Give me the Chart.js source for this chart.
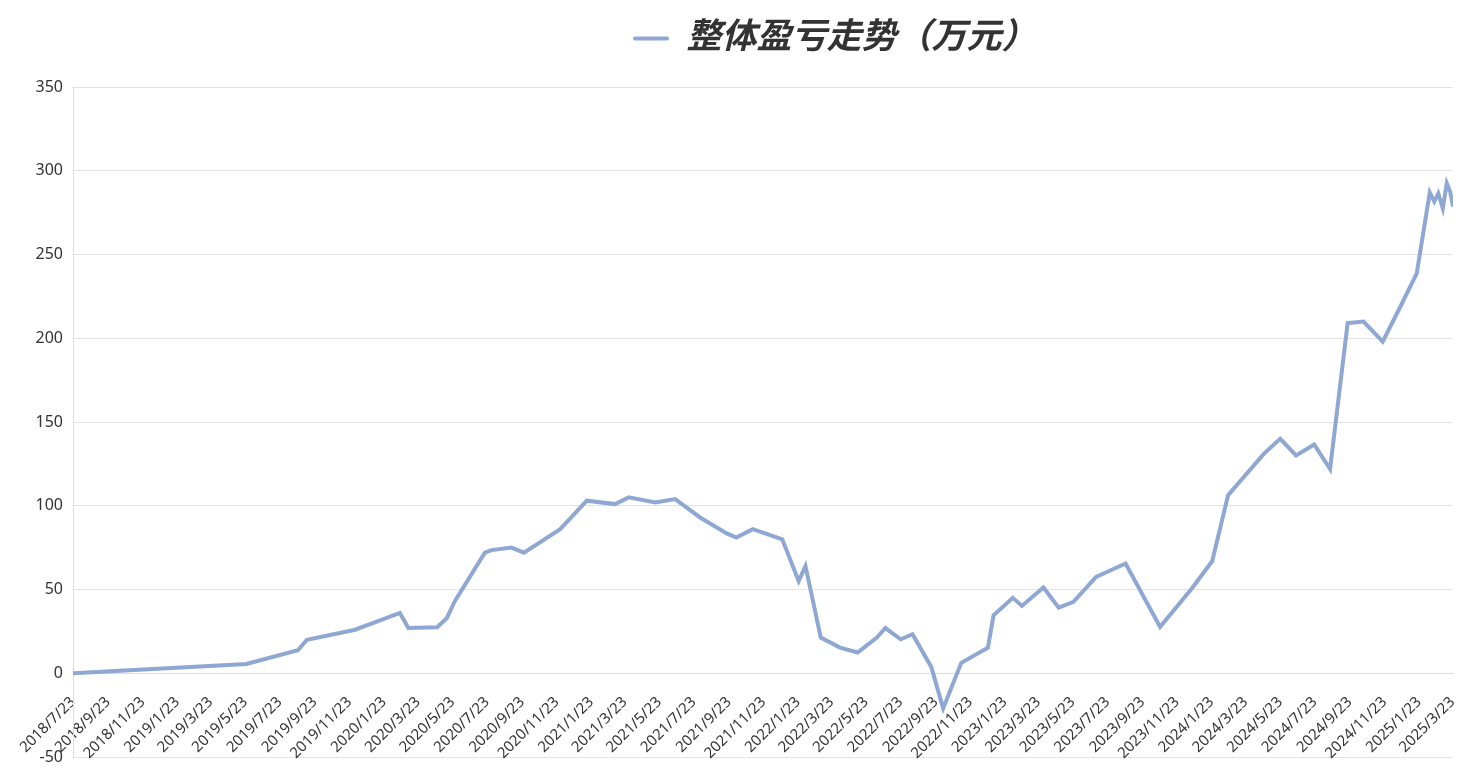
<!DOCTYPE html>
<html>
<head>
<meta charset="utf-8">
<script src="https://cdn.jsdelivr.net/npm/chart.js@4.4.1/dist/chart.umd.min.js"></script>
<style>
html,body{margin:0;padding:0;background:#fff;}
#wrap{width:1468px;height:768px;}
</style>
</head>
<body>
<div id="wrap"><canvas id="c" width="1468" height="768"></canvas></div>
<script>
const seriesName = '整体盈亏走势（万元）';

const dates = [
  "2018/7/23","2019/5/25","2019/8/24","2019/9/9","2019/12/3","2020/2/20","2020/3/6","2020/4/26",
  "2020/5/13","2020/5/27","2020/7/19","2020/7/31","2020/9/4","2020/9/26","2020/11/29","2021/1/15",
  "2021/3/6","2021/3/30","2021/5/16","2021/6/20","2021/8/3","2021/9/19","2021/10/6","2021/11/4",
  "2021/12/26","2022/1/24","2022/2/5","2022/3/4","2022/4/7","2022/5/8","2022/6/11","2022/6/26",
  "2022/7/23","2022/8/13","2022/9/15","2022/10/6","2022/11/7","2022/12/24","2023/1/3","2023/2/6",
  "2023/2/22","2023/4/1","2023/4/28","2023/5/24","2023/7/3","2023/8/24","2023/10/24","2023/12/19",
  "2024/1/24","2024/2/21","2024/4/24","2024/5/23","2024/6/20","2024/7/22","2024/8/19","2024/9/19",
  "2024/10/17","2024/11/20","2024/12/21","2025/1/19","2025/2/11","2025/2/19","2025/2/26","2025/3/6",
  "2025/3/13","2025/3/19","2025/3/24"
];

const values = [
  0, 5.5, 13.7, 20, 26, 36, 27, 27.5,
  33, 43, 72, 73.5, 75, 72, 86, 103,
  101, 105, 102, 104, 93, 83.5, 81, 86,
  80, 55, 64, 21.3, 15.3, 12.4, 21.3, 27,
  20.3, 23.3, 3.8, -21, 6.2, 15.3, 34.6, 45,
  40.2, 51.2, 39.2, 42.6, 57.5, 65.5, 27.7, 50.6,
  67, 106.3, 131, 140, 130, 136.6, 121.9, 209,
  210, 198, 218.8, 238.7, 287, 281.6, 286.5, 277.6,
  292.5, 287.5, 278.6
];

const tickLabels = [
  "2018/7/23","2018/9/23","2018/11/23","2019/1/23","2019/3/23","2019/5/23","2019/7/23","2019/9/23",
  "2019/11/23","2020/1/23","2020/3/23","2020/5/23","2020/7/23","2020/9/23","2020/11/23","2021/1/23",
  "2021/3/23","2021/5/23","2021/7/23","2021/9/23","2021/11/23","2022/1/23","2022/3/23","2022/5/23",
  "2022/7/23","2022/9/23","2022/11/23","2023/1/23","2023/3/23","2023/5/23","2023/7/23","2023/9/23",
  "2023/11/23","2024/1/23","2024/3/23","2024/5/23","2024/7/23","2024/9/23","2024/11/23","2025/1/23",
  "2025/3/23"
];

const yMin = -50, yMax = 350, yStep = 50;

function toDay(s) {
  const p = s.split('/').map(Number);
  return Math.round(Date.UTC(p[0], p[1] - 1, p[2]) / 86400000);
}

const tickDays = tickLabels.map(toDay);
const points = dates.map((d, i) => ({ x: toDay(d), y: values[i] }));
const lineColor = '#8ea7d3';
const fontFamily = "'Noto Sans', 'Noto Sans CJK SC', sans-serif";

const legendShift = {
  id: 'legendShift',
  afterLayout(chart) {
    const l = chart.legend;
    if (!l) return;
    l.left += 591; l.right += 591;
    l.top -= 21; l.bottom -= 21;
  }
};

new Chart(document.getElementById('c'), {
  type: 'line',
  data: {
    datasets: [{
      label: seriesName,
      data: points,
      borderColor: lineColor,
      backgroundColor: lineColor,
      borderWidth: 4,
      pointRadius: 0,
      tension: 0,
      fill: false
    }]
  },
  options: {
    responsive: false,
    animation: false,
    devicePixelRatio: 1,
    layout: { padding: { left: 0, right: 15, top: 0, bottom: 11 } },
    plugins: {
      tooltip: { enabled: false },
      legend: {
        display: true,
        position: 'top',
        align: 'start',
        labels: {
          boxWidth: 36,
          boxHeight: 4,
          padding: 42,
          color: '#333',
          useBorderRadius: true,
          borderRadius: 2,
          font: { size: 35, style: 'italic', weight: 'bold', family: fontFamily },
          generateLabels: (chart) => chart.data.datasets.map((ds, i) => ({
            text: ds.label,
            fillStyle: ds.borderColor,
            strokeStyle: ds.borderColor,
            lineWidth: 0,
            hidden: false,
            datasetIndex: i,
            borderRadius: 2,
            fontColor: '#333'
          }))
        }
      }
    },
    scales: {
      x: {
        type: 'linear',
        position: { y: 0 },
        min: tickDays[0],
        max: points[points.length - 1].x,
        afterBuildTicks: (s) => { s.ticks = tickDays.map(v => ({ value: v })); },
        afterFit: (s) => { s.height = 0; s.paddingLeft = 0; s.paddingRight = 0; s.paddingTop = 0; s.paddingBottom = 0; },
        ticks: {
          autoSkip: false,
          minRotation: 45,
          maxRotation: 45,
          color: '#333',
          padding: 12,
          font: { size: 15, family: fontFamily },
          callback: (v, i) => tickLabels[i]
        },
        grid: { display: false },
        border: { display: true, color: '#dcdcdc', width: 1 }
      },
      y: {
        min: yMin,
        max: yMax,
        afterFit: (s) => { s.width = 73; s.paddingTop = 0; s.paddingBottom = 0; },
        ticks: {
          stepSize: yStep,
          color: '#333',
          padding: 10,
          font: { size: 16, family: fontFamily }
        },
        grid: { color: '#e3e3e3', drawTicks: false },
        border: { display: true, color: '#dcdcdc' }
      }
    }
  },
  plugins: [legendShift]
});
</script>
</body>
</html>
